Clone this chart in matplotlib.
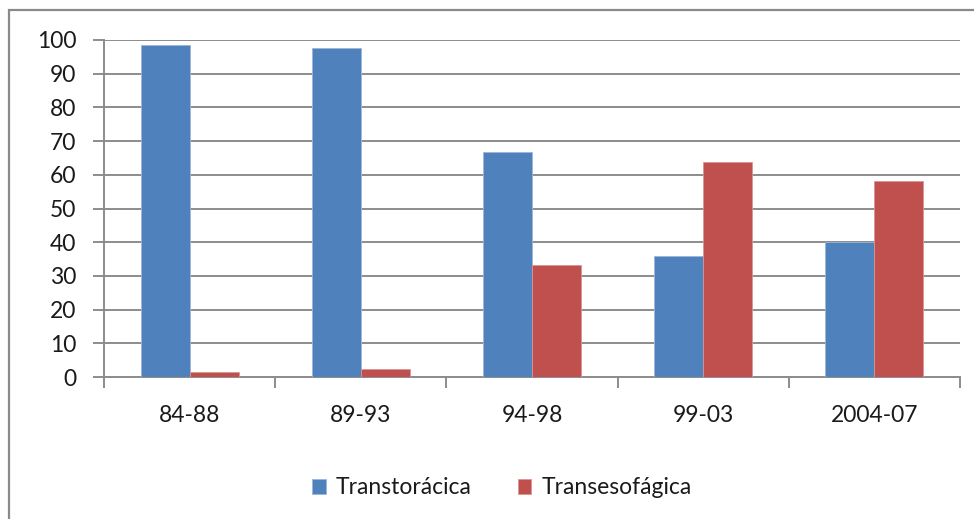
import matplotlib.pyplot as plt
import numpy as np
from matplotlib.patches import Rectangle

periods = ['84-88', '89-93', '94-98', '99-03', '2004-07']
transtoracica = [98.5, 97.6, 66.8, 35.9, 40.0]
transesofagica = [1.5, 2.4, 33.2, 63.8, 58.2]
series_names = ['Transtorácica', 'Transesofágica']

BLUE = '#4F81BD'
RED = '#C0504D'
GRID = '#8C8C8C'
TEXT = '#1A1A1A'

plt.rcParams['font.family'] = ['Lato', 'DejaVu Sans']

fig = plt.figure(figsize=(9.74, 5.19), dpi=100)
ax = fig.add_axes([104 / 974, 1 - 377 / 519, (960 - 104) / 974, (377 - 40) / 519])

# outer chart frame
fig.patches.append(Rectangle((9 / 974, -0.1), 1.2, 1 - 10 / 519 + 0.1,
                             transform=fig.transFigure, fill=False,
                             edgecolor='#8A8A8A', linewidth=1.6))

x = np.arange(len(periods))
width = 1 / 3.5
ax.bar(x - width / 2, transtoracica, width, color=BLUE, edgecolor='#9DB6D9',
       linewidth=0.6, label=series_names[0], zorder=3)
ax.bar(x + width / 2, transesofagica, width, color=RED, edgecolor='#D99694',
       linewidth=0.6, label=series_names[1], zorder=3)

ax.set_xlim(-0.5, len(periods) - 0.5)
ax.set_ylim(0, 100)
ax.set_yticks(range(0, 101, 10))
ax.yaxis.grid(True, color=GRID, linewidth=1.4, zorder=0)
ax.set_axisbelow(True)

# category labels centred, tick marks on the boundaries
ax.set_xticks(x)
ax.set_xticklabels(periods)
ax.set_xticks(np.arange(-0.5, len(periods), 1), minor=True)
ax.tick_params(axis='x', which='major', length=0, pad=20, labelsize=16.5, colors=TEXT)
ax.tick_params(axis='x', which='minor', length=8, width=1.4, color=GRID)
ax.tick_params(axis='y', length=8, width=1.4, color=GRID, pad=12, labelsize=16.5,
               labelcolor=TEXT)

for side in ['top', 'right']:
    ax.spines[side].set_visible(False)
ax.spines['left'].set_color(GRID)
ax.spines['left'].set_linewidth(1.4)
ax.spines['bottom'].set_color(GRID)
ax.spines['bottom'].set_linewidth(1.4)

leg = fig.legend(loc='center', bbox_to_anchor=(502 / 974, 1 - 488 / 519), ncol=2,
                 frameon=False, fontsize=16.5, handlelength=0.6, handleheight=0.6,
                 handletextpad=0.45, columnspacing=2.0)
for t in leg.get_texts():
    t.set_color(TEXT)

fig.savefig('out.png', dpi=100)
